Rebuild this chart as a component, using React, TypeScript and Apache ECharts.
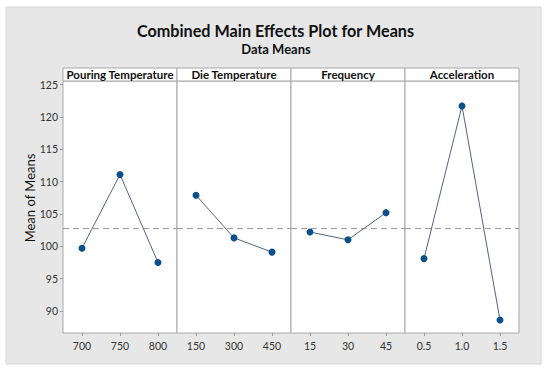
import React, { useEffect, useRef } from "react";
import * as echarts from "echarts";

const TITLE = "Combined Main Effects Plot for Means";
const SUBTITLE = "Data Means";
const Y_NAME = "Mean of Means";
const FACTORS = ["Pouring Temperature", "Die Temperature", "Frequency", "Acceleration"];
const LEVELS: string[][] = [
  ["700", "750", "800"],
  ["150", "300", "450"],
  ["15", "30", "45"],
  ["0.5", "1.0", "1.5"],
];
const MEANS: number[][] = [
  [99.7, 111.1, 97.5],
  [107.9, 101.3, 99.1],
  [102.2, 101.0, 105.2],
  [98.1, 121.7, 88.6],
];
const Y_TICKS = [90, 95, 100, 105, 110, 115, 120, 125];
const Y_MIN = 86.6;
const Y_MAX = 125.55;

const FONT = "Lato, 'Open Sans', sans-serif";

export default function App() {
  const ref = useRef<HTMLDivElement>(null);
  useEffect(() => {
    document.body.style.margin = "0";
    if (!ref.current) return;
    const chart = echarts.init(ref.current, undefined, { renderer: "svg" });
    const all = MEANS.flat();
    const grand = all.reduce((a, b) => a + b, 0) / all.length;

    const lefts = [63, 177, 291, 405];
    const W = 114;
    const TOP = 81;
    const H = 252;

    const grids = lefts.map((l) => ({
      left: l,
      top: TOP,
      width: W,
      height: H,
      show: true,
      backgroundColor: "#ffffff",
      borderColor: "#a8a8a8",
      borderWidth: 1,
    }));

    const xAxes = LEVELS.map((lv, i) => ({
      type: "category",
      gridIndex: i,
      data: lv,
      boundaryGap: true,
      axisLine: { show: false },
      axisTick: { show: true, alignWithLabel: true, length: 3, lineStyle: { color: "#999" } },
      axisLabel: { fontSize: 10.5, color: "#333", margin: 7, fontFamily: FONT },
      splitLine: { show: false },
    }));

    const yAxes = LEVELS.map((_, i) => ({
      type: "value",
      gridIndex: i,
      min: Y_MIN,
      max: Y_MAX,
      axisLine: { show: false },
      axisTick: {
        show: i === 0,
        length: 3,
        customValues: Y_TICKS,
        lineStyle: { color: "#999" },
      },
      axisLabel: {
        show: i === 0,
        customValues: Y_TICKS,
        fontSize: 10.5,
        color: "#333",
        margin: 5,
        fontFamily: FONT,
      },
      splitLine: { show: false },
    }));

    const series = MEANS.map((vals, i) => ({
      type: "line",
      xAxisIndex: i,
      yAxisIndex: i,
      data: vals,
      symbol: "circle",
      symbolSize: 7,
      itemStyle: { color: "#0b4f8b" },
      lineStyle: { color: "#4f6678", width: 1 },
      markLine: {
        silent: true,
        symbol: "none",
        label: { show: false },
        lineStyle: { color: "#9c9c9c", type: [6, 4], width: 1 },
        data: [{ yAxis: grand }],
      },
      z: 5,
    }));

    const headers: any[] = [];
    FACTORS.forEach((f, i) => {
      headers.push({
        type: "rect",
        shape: { x: lefts[i], y: 68, width: W, height: 13 },
        style: { fill: "#ffffff", stroke: "#a8a8a8", lineWidth: 1 },
        z: 10,
      });
      headers.push({
        type: "text",
        x: lefts[i] + W / 2,
        y: 74.8,
        style: {
          text: f,
          fill: "#111",
          font: `bold 11.5px ${FONT}`,
          textAlign: "center",
          textVerticalAlign: "middle",
        },
        z: 11,
      });
    });

    chart.setOption({
      animation: false,
      backgroundColor: "#ffffff",
      graphic: [
        {
          type: "rect",
          shape: { x: 6, y: 7, width: 535, height: 357 },
          style: { fill: "#e7e7e7", stroke: "#d6d6d6", lineWidth: 1 },
          z: -10,
        },
        {
          type: "text",
          x: 275.5,
          y: 30,
          style: {
            text: TITLE,
            fill: "#111",
            font: `bold 16.2px ${FONT}`,
            textAlign: "center",
            textVerticalAlign: "middle",
          },
          z: 10,
        },
        {
          type: "text",
          x: 276,
          y: 49,
          style: {
            text: SUBTITLE,
            fill: "#111",
            font: `bold 13px ${FONT}`,
            textAlign: "center",
            textVerticalAlign: "middle",
          },
          z: 10,
        },
        {
          type: "text",
          x: 30,
          y: 198,
          rotation: Math.PI / 2,
          style: {
            text: Y_NAME,
            fill: "#111",
            font: `13px ${FONT}`,
            textAlign: "center",
            textVerticalAlign: "middle",
          },
          z: 10,
        },
        ...headers,
      ],
      grid: grids,
      xAxis: xAxes,
      yAxis: yAxes,
      series,
    });
    return () => chart.dispose();
  }, []);
  return <div ref={ref} style={{ width: 550, height: 371 }} />;
}
